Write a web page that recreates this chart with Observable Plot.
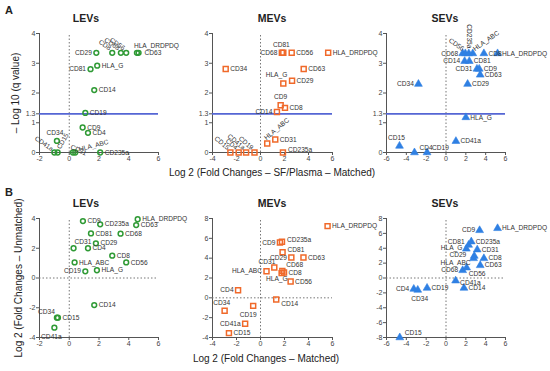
<!DOCTYPE html>
<html><head><meta charset="utf-8">
<script src="https://cdn.jsdelivr.net/npm/d3@7"></script>
<script src="https://cdn.jsdelivr.net/npm/@observablehq/plot@0.6"></script>
<style>
body{margin:0;background:#fff;}
#wrap{position:relative;width:550px;height:371px;overflow:hidden;font-family:"Liberation Sans",Arial,sans-serif;color:#222;}
.t{position:absolute;white-space:nowrap;line-height:1;}
.panel{position:absolute;}
</style></head><body>
<div id="wrap"></div>
<script>
// ---------- DATA ----------
const A_LEV_names = ["CD29","CD8","CD68","CD56","HLA_DRDPDQ","CD63","HLA_G","CD81","CD14","CD19","CD9","CD4","CD34","CD41a","CD15","CD31","HLA_ABC","CD235a"];
const A_LEV_x = [1.82,2.89,3.47,3.83,4.55,4.66,1.88,1.43,1.68,1.08,0.9,1.26,-0.83,-1.0,-0.78,0.25,0.4,2.08];
const A_LEV_y = [3.35,3.35,3.35,3.35,3.35,3.35,2.92,2.80,2.10,1.33,0.84,0.66,0.39,0,0,0,0,0];

const A_MEV_names = ["CD81","CD68","CD56","HLA_DRDPDQ","CD34","CD63","HLA_G","CD29","CD9","CD8","CD14","HLA_ABC","CD31","CD235a","CD15","CD4","CD41a","CD19"];
const A_MEV_x = [1.9,1.78,2.6,5.64,-2.9,3.6,1.9,2.63,1.68,2.04,1.37,0.56,1.23,1.87,-2.51,-1.82,-1.2,-0.5];
const A_MEV_y = [3.35,3.35,3.35,3.35,2.81,2.81,2.32,2.41,1.59,1.5,1.36,0.30,0.44,0,0,0,0,0];

const A_SEV_names = ["CD68","CD56","CD235a","HLA_ABC","CD8","HLA_DRDPDQ","CD14","CD81","CD31","CD9","CD63","CD29","CD34","HLA_G","CD41a","CD15","CD4","CD19"];
const A_SEV_x = [1.68,1.95,2.3,2.7,3.82,5.2,1.88,2.35,3.12,3.35,3.45,2.18,-2.78,2.0,1.0,-4.69,-3.18,-1.91];
const A_SEV_y = [3.33,3.33,3.33,3.33,3.33,3.33,3.07,3.07,2.81,2.81,2.61,2.30,2.30,1.18,0.38,0.22,0,0];

const B_LEV_names = ["CD9","HLA_DRDPDQ","CD235a","CD63","CD81","CD68","CD31","CD29","CD4","CD8","HLA_ABC","CD56","CD19","HLA_G","CD14","CD34","CD15","CD41a"];
const B_LEV_x = [0.92,4.6,2.08,4.5,1.46,3.45,0.29,1.79,1.26,2.89,0.36,3.83,1.08,1.86,1.68,-0.83,-0.76,-1.0];
const B_LEV_y = [3.83,3.95,3.61,3.56,3.0,2.98,2.0,2.33,2.0,1.5,1.05,1.05,0.45,0.52,-1.82,-2.67,-2.67,-3.34];

const B_MEV_names = ["HLA_DRDPDQ","CD9","CD235a","CD81","CD29","CD63","CD31","CD68","CD8","HLA_G","HLA_ABC","CD56","CD4","CD14","CD19","CD34","CD41a","CD15"];
const B_MEV_x = [5.59,1.62,1.79,1.84,2.57,3.58,1.15,1.82,1.96,1.76,0.5,2.51,-1.87,1.31,-0.61,-2.99,-1.28,-2.63];
const B_MEV_y = [7.23,5.58,5.65,4.6,4.07,4.07,3.06,2.72,2.55,2.49,2.69,1.65,0.77,-0.17,-0.81,-1.31,-2.62,-3.56];

const B_SEV_names = ["CD9","HLA_DRDPDQ","CD81","CD235a","HLA_G","CD31","CD29","HLA_ABC","CD8","CD63","CD68","CD56","CD41a","CD14","CD19","CD4","CD34","CD15"];
const B_SEV_x = [3.39,5.2,2.28,2.55,2.05,3.15,2.85,2.78,3.82,3.45,1.68,2.08,0.97,1.81,-1.91,-3.25,-2.85,-4.66];
const B_SEV_y = [6.41,6.68,4.44,4.89,3.92,3.81,2.96,2.64,2.64,1.7,1.03,1.39,-0.36,-1.34,-1.34,-1.48,-1.61,-8.0];

const xTicksLEV = [-2,0,2,4,6];
const xTicksMEV = [-4,-2,0,2,4,6];
const xTicksSEV = [-6,-4,-2,0,2,4,6];
const yTicksA = [0,1,1.3,2,3,4];
const yTicksB_LEV = [-4,-2,0,2,4];
const yTicksB_MEV = [-4,-2,0,2,4,6,8];
const yTicksB_SEV = [-8,-6,-4,-2,0,2,4,6,8];
const threshold = 1.3;

// ---------- LABEL PLACEMENT (style) ----------
const R = ["start",4.5,0,0], L = ["end",-4.5,0,0];
const place = {
  A_LEV: {CD29:L, CD8:["end",-2,-4,35], CD68:["end",-2,-4,35], CD56:["end",-2,-4,35],
    HLA_DRDPDQ:["start",-3,-7,0], CD63:["start",6,0,0], HLA_G:R, CD81:L, CD14:R, CD19:R, CD9:R, CD4:R,
    CD34:["middle",-2,-8,0], CD41a:["end",-2,-3,35], CD15:["start",1,-4,-60], CD31:["start",-2,-6,25],
    HLA_ABC:["start",4,-3,-15], CD235a:R},
  A_MEV: {CD81:["middle",-2,-8,0], CD68:L, CD56:R, HLA_DRDPDQ:R, CD34:R, CD63:R, HLA_G:["end",4,-9,0],
    CD29:R, CD9:["middle",0,-8,0], CD8:R, CD14:L, HLA_ABC:["start",-2,-5,-40], CD31:R, CD235a:["start",5,-3,0],
    CD15:["end",-2,-4,40], CD4:["end",-2,-4,40], CD41a:["end",-2,-4,40], CD19:["end",-2,-4,40]},
  A_SEV: {CD68:L, CD56:["end",-2,-4,35], CD235a:["end",0,-5,90], HLA_ABC:["start",1,-4,-35], CD8:R, HLA_DRDPDQ:R,
    CD14:L, CD81:R, CD31:L, CD9:R, CD63:R, CD29:R, CD34:L, HLA_G:R, CD41a:R,
    CD15:["middle",-3,-8,0], CD4:["start",5,-5,0], CD19:["start",5,-5,0]},
  B_LEV: {CD9:R, HLA_DRDPDQ:R, CD235a:R, CD63:R, CD81:R, CD68:R, CD31:["start",1,-6,0], CD29:R, CD4:R, CD8:R,
    HLA_ABC:R, CD56:R, CD19:L, HLA_G:R, CD14:R, CD34:["end",-2,-6,0], CD15:R, CD41a:["middle",-3,9,0]},
  B_MEV: {HLA_DRDPDQ:R, CD9:L, CD235a:["start",5,-2,0], CD81:["start",5,-2,0], CD29:L, CD63:R,
    CD31:["end",1,-6,0], CD68:["start",4,-6,0], CD8:R, HLA_G:["end",6,6,0], HLA_ABC:L, CD56:R, CD4:L,
    CD14:["start",5,4,0], CD19:["middle",-5,9,0], CD34:["middle",-3,-8,0], CD41a:L, CD15:R},
  B_SEV: {CD9:L, HLA_DRDPDQ:R, CD81:["end",-4,-3,0], CD235a:R, HLA_G:["end",-4,-1,0], CD31:R, CD29:["end",-8,-1,0],
    HLA_ABC:["end",-3,5,0], CD8:R, CD63:R, CD68:L, CD56:["start",2,6,0], CD41a:["start",4.5,2,0], CD14:R, CD19:R, CD4:L,
    CD34:["middle",2,9,0], CD15:["start",5,-5,0]}
};

const GREEN = "#2f9a35", ORANGE = "#f0692a", BLUE = "#2f80e3", LINE = "#5566d4";

// ---------- PANELS ----------
const panels = [
  {key:"A_LEV", names:A_LEV_names, xs:A_LEV_x, ys:A_LEV_y, xd:[-2,6], yd:[0,4], px:[39,158], py:[33,152], xt:xTicksLEV, yt:yTicksA, sym:"circle", col:GREEN, row:"A"},
  {key:"A_MEV", names:A_MEV_names, xs:A_MEV_x, ys:A_MEV_y, xd:[-4,6], yd:[0,4], px:[212,332], py:[33,152], xt:xTicksMEV, yt:yTicksA, sym:"square", col:ORANGE, row:"A"},
  {key:"A_SEV", names:A_SEV_names, xs:A_SEV_x, ys:A_SEV_y, xd:[-6,6], yd:[0,4], px:[386,505], py:[33,152], xt:xTicksSEV, yt:yTicksA, sym:"triangle", col:BLUE, row:"A"},
  {key:"B_LEV", names:B_LEV_names, xs:B_LEV_x, ys:B_LEV_y, xd:[-2,6], yd:[-4,4], px:[39,158], py:[218,337], xt:xTicksLEV, yt:yTicksB_LEV, sym:"circle", col:GREEN, row:"B"},
  {key:"B_MEV", names:B_MEV_names, xs:B_MEV_x, ys:B_MEV_y, xd:[-4,6], yd:[-4,8], px:[212,332], py:[218,337], xt:xTicksMEV, yt:yTicksB_MEV, sym:"square", col:ORANGE, row:"B"},
  {key:"B_SEV", names:B_SEV_names, xs:B_SEV_x, ys:B_SEV_y, xd:[-6,6], yd:[-8,8], px:[386,505], py:[218,337], xt:xTicksSEV, yt:yTicksB_SEV, sym:"triangle", col:BLUE, row:"B"}
];

const wrap = document.getElementById("wrap");
const mL = 30, mR = 10, mT = 10, mB = 16;

for (const p of panels) {
  const data = p.names.map((n,i) => ({name:n, x:p.xs[i], y:p.ys[i]}));
  const marks = [];
  marks.push(Plot.ruleX([p.xd[0]], {y1:p.yd[0], y2:p.yd[1], stroke:"#555", strokeWidth:1}));
  marks.push(Plot.ruleY([p.yd[0]], {x1:p.xd[0], x2:p.xd[1], stroke:"#555", strokeWidth:1}));
  marks.push(Plot.axisX({ticks:p.xt, tickSize:3, tickPadding:1, fontSize:7, label:null, tickFormat:d=>String(d), stroke:"#555", color:"#444"}));
  marks.push(Plot.axisY({ticks:p.yt, tickSize:3, tickPadding:1, fontSize:7, label:null, tickFormat:d=>String(d), stroke:"#555", color:"#444"}));
  marks.push(Plot.ruleX([0], {y1:p.yd[0], y2:p.yd[1], stroke:"#777", strokeDasharray:"1.5,2", strokeWidth:1}));
  if (p.row === "A") {
    marks.push(Plot.ruleY([threshold], {x1:p.xd[0], x2:p.xd[1], stroke:LINE, strokeWidth:1.6}));
  } else {
    marks.push(Plot.ruleY([0], {x1:p.xd[0], x2:p.xd[1], stroke:"#777", strokeDasharray:"1.5,2", strokeWidth:1}));
  }
  if (p.sym === "triangle") {
    marks.push(Plot.dot(data, {x:"x", y:"y", symbol:"triangle", r:2.9, fill:p.col, stroke:p.col, strokeWidth:0.6}));
  } else if (p.sym === "square") {
    marks.push(Plot.dot(data, {x:"x", y:"y", symbol:"square", r:2.8, fill:"none", stroke:p.col, strokeWidth:1.5}));
  } else {
    marks.push(Plot.dot(data, {x:"x", y:"y", symbol:"circle", r:2.4, fill:"none", stroke:p.col, strokeWidth:1.5}));
  }
  const pl = place[p.key];
  for (const d of data) {
    const s = pl[d.name] || R;
    marks.push(Plot.text([d], {x:"x", y:"y", text:"name", textAnchor:s[0], dx:s[1], dy:s[2], rotate:s[3], fontSize:6.6, fill:"#333", lineAnchor:"middle"}));
  }
  const w = (p.px[1]-p.px[0]) + mL + mR;
  const h = (p.py[1]-p.py[0]) + mT + mB;
  const svg = Plot.plot({
    width:w, height:h, marginLeft:mL, marginRight:mR, marginTop:mT, marginBottom:mB,
    x:{domain:p.xd, label:null}, y:{domain:p.yd, label:null},
    style:{background:"transparent", overflow:"visible", fontFamily:"'Liberation Sans', Arial, sans-serif"},
    marks
  });
  const div = document.createElement("div");
  div.className = "panel";
  div.style.left = (p.px[0]-mL) + "px";
  div.style.top = (p.py[0]-mT) + "px";
  div.appendChild(svg);
  wrap.appendChild(div);
}

function addText(txt, x, y, opts={}) {
  const d = document.createElement("div");
  d.className = "t";
  d.textContent = txt;
  d.style.fontSize = (opts.size||10) + "px";
  if (opts.bold) d.style.fontWeight = "bold";
  d.style.color = opts.color || "#222";
  d.style.left = x + "px"; d.style.top = y + "px";
  d.style.transform = "translate(-50%,-50%)" + (opts.rot ? ` rotate(${opts.rot}deg)` : "");
  wrap.appendChild(d);
}
addText("A", 9, 10, {bold:true, size:11});
addText("B", 9, 192, {bold:true, size:11});
addText("LEVs", 86, 18, {bold:true, size:10.5});
addText("MEVs", 272, 18, {bold:true, size:10.5});
addText("SEVs", 445, 18, {bold:true, size:10.5});
addText("LEVs", 86, 203, {bold:true, size:10.5});
addText("MEVs", 272, 203, {bold:true, size:10.5});
addText("SEVs", 445, 203, {bold:true, size:10.5});
addText("Log 2 (Fold Changes – SF/Plasma – Matched)", 272, 173, {size:10});
addText("Log 2 (Fold Changes – Matched)", 266, 359, {size:10});
addText("– Log 10 (q value)", 16, 93, {size:10, rot:-90});
addText("Log 2 (Fold Changes – Unmatched)", 19, 278, {size:10, rot:-90});
</script>
</body></html>
